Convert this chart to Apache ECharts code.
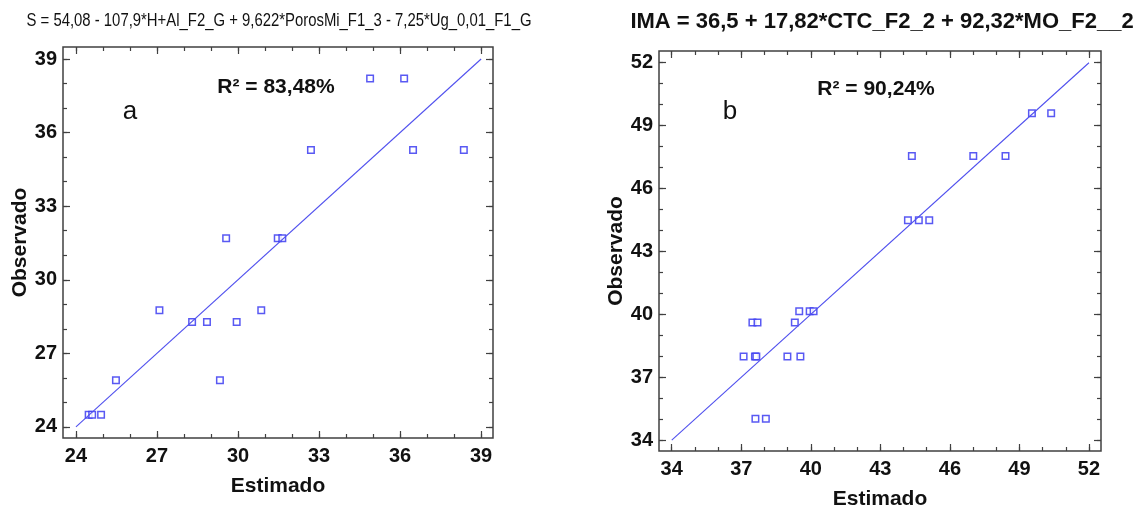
<!DOCTYPE html>
<html>
<head>
<meta charset="utf-8">
<script src="https://cdn.jsdelivr.net/npm/echarts@6/dist/echarts.min.js"></script>
<style>
html,body{margin:0;padding:0;background:#fff;}
#chart{width:1140px;height:509px;}
</style>
</head>
<body>
<div id="chart"></div>
<script>
// ---- Data: chart a ----
const titleA = 'S = 54,08 - 107,9*H+Al_F2_G + 9,622*PorosMi_F1_3 - 7,25*Ug_0,01_F1_G';
const r2A = 'R² = 83,48%';
const panelA = 'a';
const estA = [34.89, 36.15, 32.70, 36.48, 38.36, 29.56, 31.47, 31.64, 27.09, 28.30, 28.85, 29.95, 30.86, 25.48, 29.33, 24.47, 24.60, 24.93];
const obsA = [38.21, 38.21, 35.29, 35.29, 35.29, 31.69, 31.69, 31.69, 28.76, 28.28, 28.28, 28.28, 28.76, 25.90, 25.90, 24.50, 24.50, 24.50];
const lineA = [24, 39];
const ticksA = [24, 27, 30, 33, 36, 39];
const minorA = [24,25,26,27,28,29,30,31,32,33,34,35,36,37,38,39];

// ---- Data: chart b ----
const titleB = 'IMA = 36,5 + 17,82*CTC_F2_2 + 92,32*MO_F2__2';
const r2B = 'R² = 90,24%';
const panelB = 'b';
const estB = [49.54, 50.37, 44.36, 47.01, 48.40, 44.19, 44.66, 45.11, 39.50, 39.95, 40.12, 37.48, 37.70, 39.31, 37.10, 37.59, 37.65, 38.99, 39.55, 37.61, 38.06];
const obsB = [49.59, 49.59, 47.55, 47.55, 47.55, 44.49, 44.49, 44.49, 40.15, 40.15, 40.15, 39.61, 39.61, 39.61, 37.99, 37.99, 37.99, 37.99, 37.99, 35.02, 35.02];
const lineB = [34, 52];
const ticksB = [34, 37, 40, 43, 46, 49, 52];
const minorB = [34,35,36,37,38,39,40,41,42,43,44,45,46,47,48,49,50,51,52];

const axisName = { x: 'Estimado', y: 'Observado' };

// ---- styling ----
const frameColor = '#404040';
const blue = '#3030f0';
const lineBlue = '#5050ee';
const labelFont = { fontFamily: 'Liberation Sans, Arial, sans-serif', fontWeight: 'bold', fontSize: 20, color: '#111' };

function makeAxes(dim, gridIndex, range, majors, minors, gaps) {
  const axes = [];
  const sides = dim === 'x' ? ['bottom', 'top'] : ['left', 'right'];
  sides.forEach((pos, si) => {
    [true, false].forEach(isMajor => {
      const a = {
        type: 'value', gridIndex, position: pos,
        min: range[0], max: range[1],
        axisLine: { show: false },
        splitLine: { show: false },
        axisTick: { show: true, inside: true, length: isMajor ? 7 : 4,
          customValues: isMajor ? majors : minors,
          lineStyle: { color: frameColor, width: 1.2 } },
        axisLabel: { show: false }
      };
      if (si === 0 && isMajor) {
        a.axisLabel = Object.assign({ show: true, customValues: majors, margin: dim === 'x' ? 8 : 6 }, labelFont);
        a.name = dim === 'x' ? axisName.x : axisName.y;
        a.nameLocation = 'middle';
        a.nameGap = gaps;
        a.nameTextStyle = { fontFamily: 'Liberation Sans, Arial, sans-serif', fontWeight: 'bold', fontSize: 21, color: '#111' };
      }
      axes.push(a);
    });
  });
  return axes;
}

const xAxes = [].concat(
  makeAxes('x', 0, [23.52, 39.44], ticksA, minorA, 38),
  makeAxes('x', 1, [33.45, 52.52], ticksB, minorB, 38)
);
const yAxes = [].concat(
  makeAxes('y', 0, [23.55, 39.49], ticksA, minorA, 31),
  makeAxes('y', 1, [33.48, 52.56], ticksB, minorB, 31)
);

// condensed title: fit to the width it takes in the reference
const titleAFont = '18px "Liberation Sans", Arial, sans-serif';
const mctx = document.createElement('canvas').getContext('2d');
mctx.font = titleAFont;
const titleAScale = 505 / mctx.measureText(titleA).width;

const chart = echarts.init(document.getElementById('chart'));
chart.setOption({
  animation: false,
  backgroundColor: '#fff',
  grid: [
    { left: 63, top: 47, width: 430, height: 391, show: true, borderColor: frameColor, borderWidth: 1.5, backgroundColor: 'transparent', outerBoundsMode: 'none', containLabel: false },
    { left: 659, top: 51, width: 442, height: 400, show: true, borderColor: frameColor, borderWidth: 1.5, backgroundColor: 'transparent', outerBoundsMode: 'none', containLabel: false }
  ],
  xAxis: xAxes,
  yAxis: yAxes,
  series: [
    { type: 'line', xAxisIndex: 0, yAxisIndex: 0, data: lineA.map(v => [v, v]), symbol: 'none',
      lineStyle: { color: lineBlue, width: 1.1 }, silent: true },
    { type: 'scatter', xAxisIndex: 0, yAxisIndex: 0, data: estA.map((v, i) => [v, obsA[i]]),
      symbol: 'rect', symbolSize: 6.5, itemStyle: { color: '#fff', borderColor: blue, borderWidth: 1.5 } },
    { type: 'line', xAxisIndex: 4, yAxisIndex: 4, data: lineB.map(v => [v, v]), symbol: 'none',
      lineStyle: { color: lineBlue, width: 1.1 }, silent: true },
    { type: 'scatter', xAxisIndex: 4, yAxisIndex: 4, data: estB.map((v, i) => [v, obsB[i]]),
      symbol: 'rect', symbolSize: 6.5, itemStyle: { color: '#fff', borderColor: blue, borderWidth: 1.5 } }
  ],
  graphic: [
    { type: 'text', x: 279, y: 21, scaleX: titleAScale, style: { text: titleA, fill: '#111', font: titleAFont, textAlign: 'center', textVerticalAlign: 'middle' } },
    { type: 'text', x: 882, y: 22, style: { text: titleB, fill: '#111', font: 'bold 22px "Liberation Sans", Arial, sans-serif', textAlign: 'center', textVerticalAlign: 'middle' } },
    { type: 'text', x: 276, y: 87, style: { text: r2A, fill: '#111', font: 'bold 21px "Liberation Sans", Arial, sans-serif', textAlign: 'center', textVerticalAlign: 'middle' } },
    { type: 'text', x: 876, y: 89, style: { text: r2B, fill: '#111', font: 'bold 21px "Liberation Sans", Arial, sans-serif', textAlign: 'center', textVerticalAlign: 'middle' } },
    { type: 'text', x: 130, y: 112, style: { text: panelA, fill: '#111', font: '26px "Liberation Sans", Arial, sans-serif', textAlign: 'center', textVerticalAlign: 'middle' } },
    { type: 'text', x: 730, y: 112, style: { text: panelB, fill: '#111', font: '26px "Liberation Sans", Arial, sans-serif', textAlign: 'center', textVerticalAlign: 'middle' } }
  ]
});
</script>
</body>
</html>
